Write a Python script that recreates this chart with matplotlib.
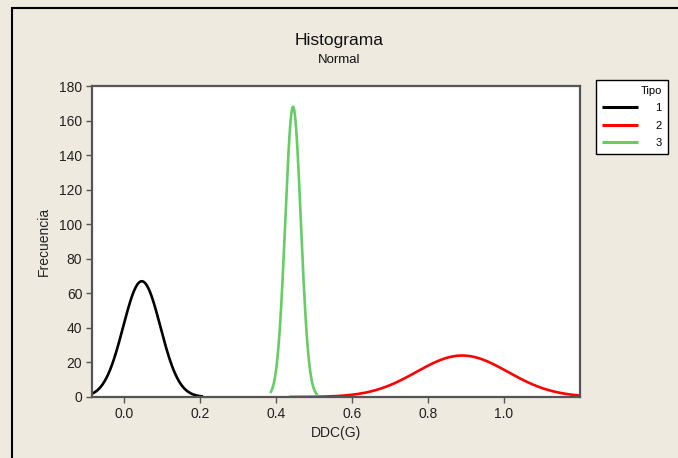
import numpy as np
import matplotlib
matplotlib.use("Agg")
import matplotlib.pyplot as plt
from matplotlib.patches import Rectangle

plt.rcParams['font.family'] = ['Liberation Sans Narrow', 'Liberation Sans', 'DejaVu Sans']

# Fitted normal curves
tipos = ['1', '2', '3']
means = [0.047, 0.89, 0.445]
sds = [0.049, 0.12, 0.0205]
peaks = [67, 24, 168]
x_start = [-0.084, 0.435, 0.385]
x_end = [0.208, 1.2, 0.51]
colors = ['#000000', '#FF0000', '#66CC66']

xticks = [0.0, 0.2, 0.4, 0.6, 0.8, 1.0]
yticks = [0, 20, 40, 60, 80, 100, 120, 140, 160, 180]

bg = '#EEEAE0'
fig = plt.figure(figsize=(6.78, 4.58), dpi=100, facecolor=bg)

# outer frame
fig.patches.append(Rectangle((11.5 / 678, -0.1), 2, 1 - 7.5 / 458 + 0.1,
                             transform=fig.transFigure, fill=False,
                             edgecolor='black', linewidth=1.5))

ax = fig.add_axes([92 / 678, 1 - 397 / 458, (580 - 92) / 678, (397 - 86) / 458])
ax.set_facecolor('white')

for t, m, s, p, a, b, c in zip(tipos, means, sds, peaks, x_start, x_end, colors):
    x = np.linspace(a, b, 400)
    y = p * np.exp(-0.5 * ((x - m) / s) ** 2)
    ax.plot(x, y, color=c, lw=1.9, label=t, solid_capstyle='butt')

ax.set_xlim(-0.084, 1.2)
ax.set_ylim(0, 180)
ax.set_xticks(xticks)
ax.set_xticklabels([f"{v:.1f}" for v in xticks])
ax.set_yticks(yticks)
for sp in ax.spines.values():
    sp.set_color('#555555')
    sp.set_linewidth(1.6)
ax.tick_params(direction='out', length=4, width=1, color='#555555',
               labelsize=10, labelcolor='#222222', pad=3)
ax.set_xlabel('DDC(G)', fontsize=10, color='#222222', labelpad=4)
ax.set_ylabel('Frecuencia', fontsize=10, color='#222222', labelpad=6)

fig.text(0.5 * (92 + 580) / 678 + 0.004, 1 - 41 / 458, 'Histograma', ha='center', va='center',
         fontsize=12.5, color='#111111')
fig.text(0.5 * (92 + 580) / 678 + 0.004, 1 - 60 / 458, 'Normal', ha='center', va='center',
         fontsize=9.5, color='#111111')

leg = ax.legend(title='Tipo', loc='upper left',
                bbox_to_anchor=(596 / 678, 1 - 80 / 458), bbox_transform=fig.transFigure,
                fontsize=8, title_fontsize=8, frameon=True, fancybox=False,
                edgecolor='black', framealpha=1, handlelength=3.2, handletextpad=1.6,
                labelspacing=0.65, borderpad=0.55, alignment='right',
                borderaxespad=0)
leg.get_frame().set_linewidth(1.0)
for line in leg.get_lines():
    line.set_linewidth(2.2)

fig.savefig('out.png', dpi=100, facecolor=bg)
